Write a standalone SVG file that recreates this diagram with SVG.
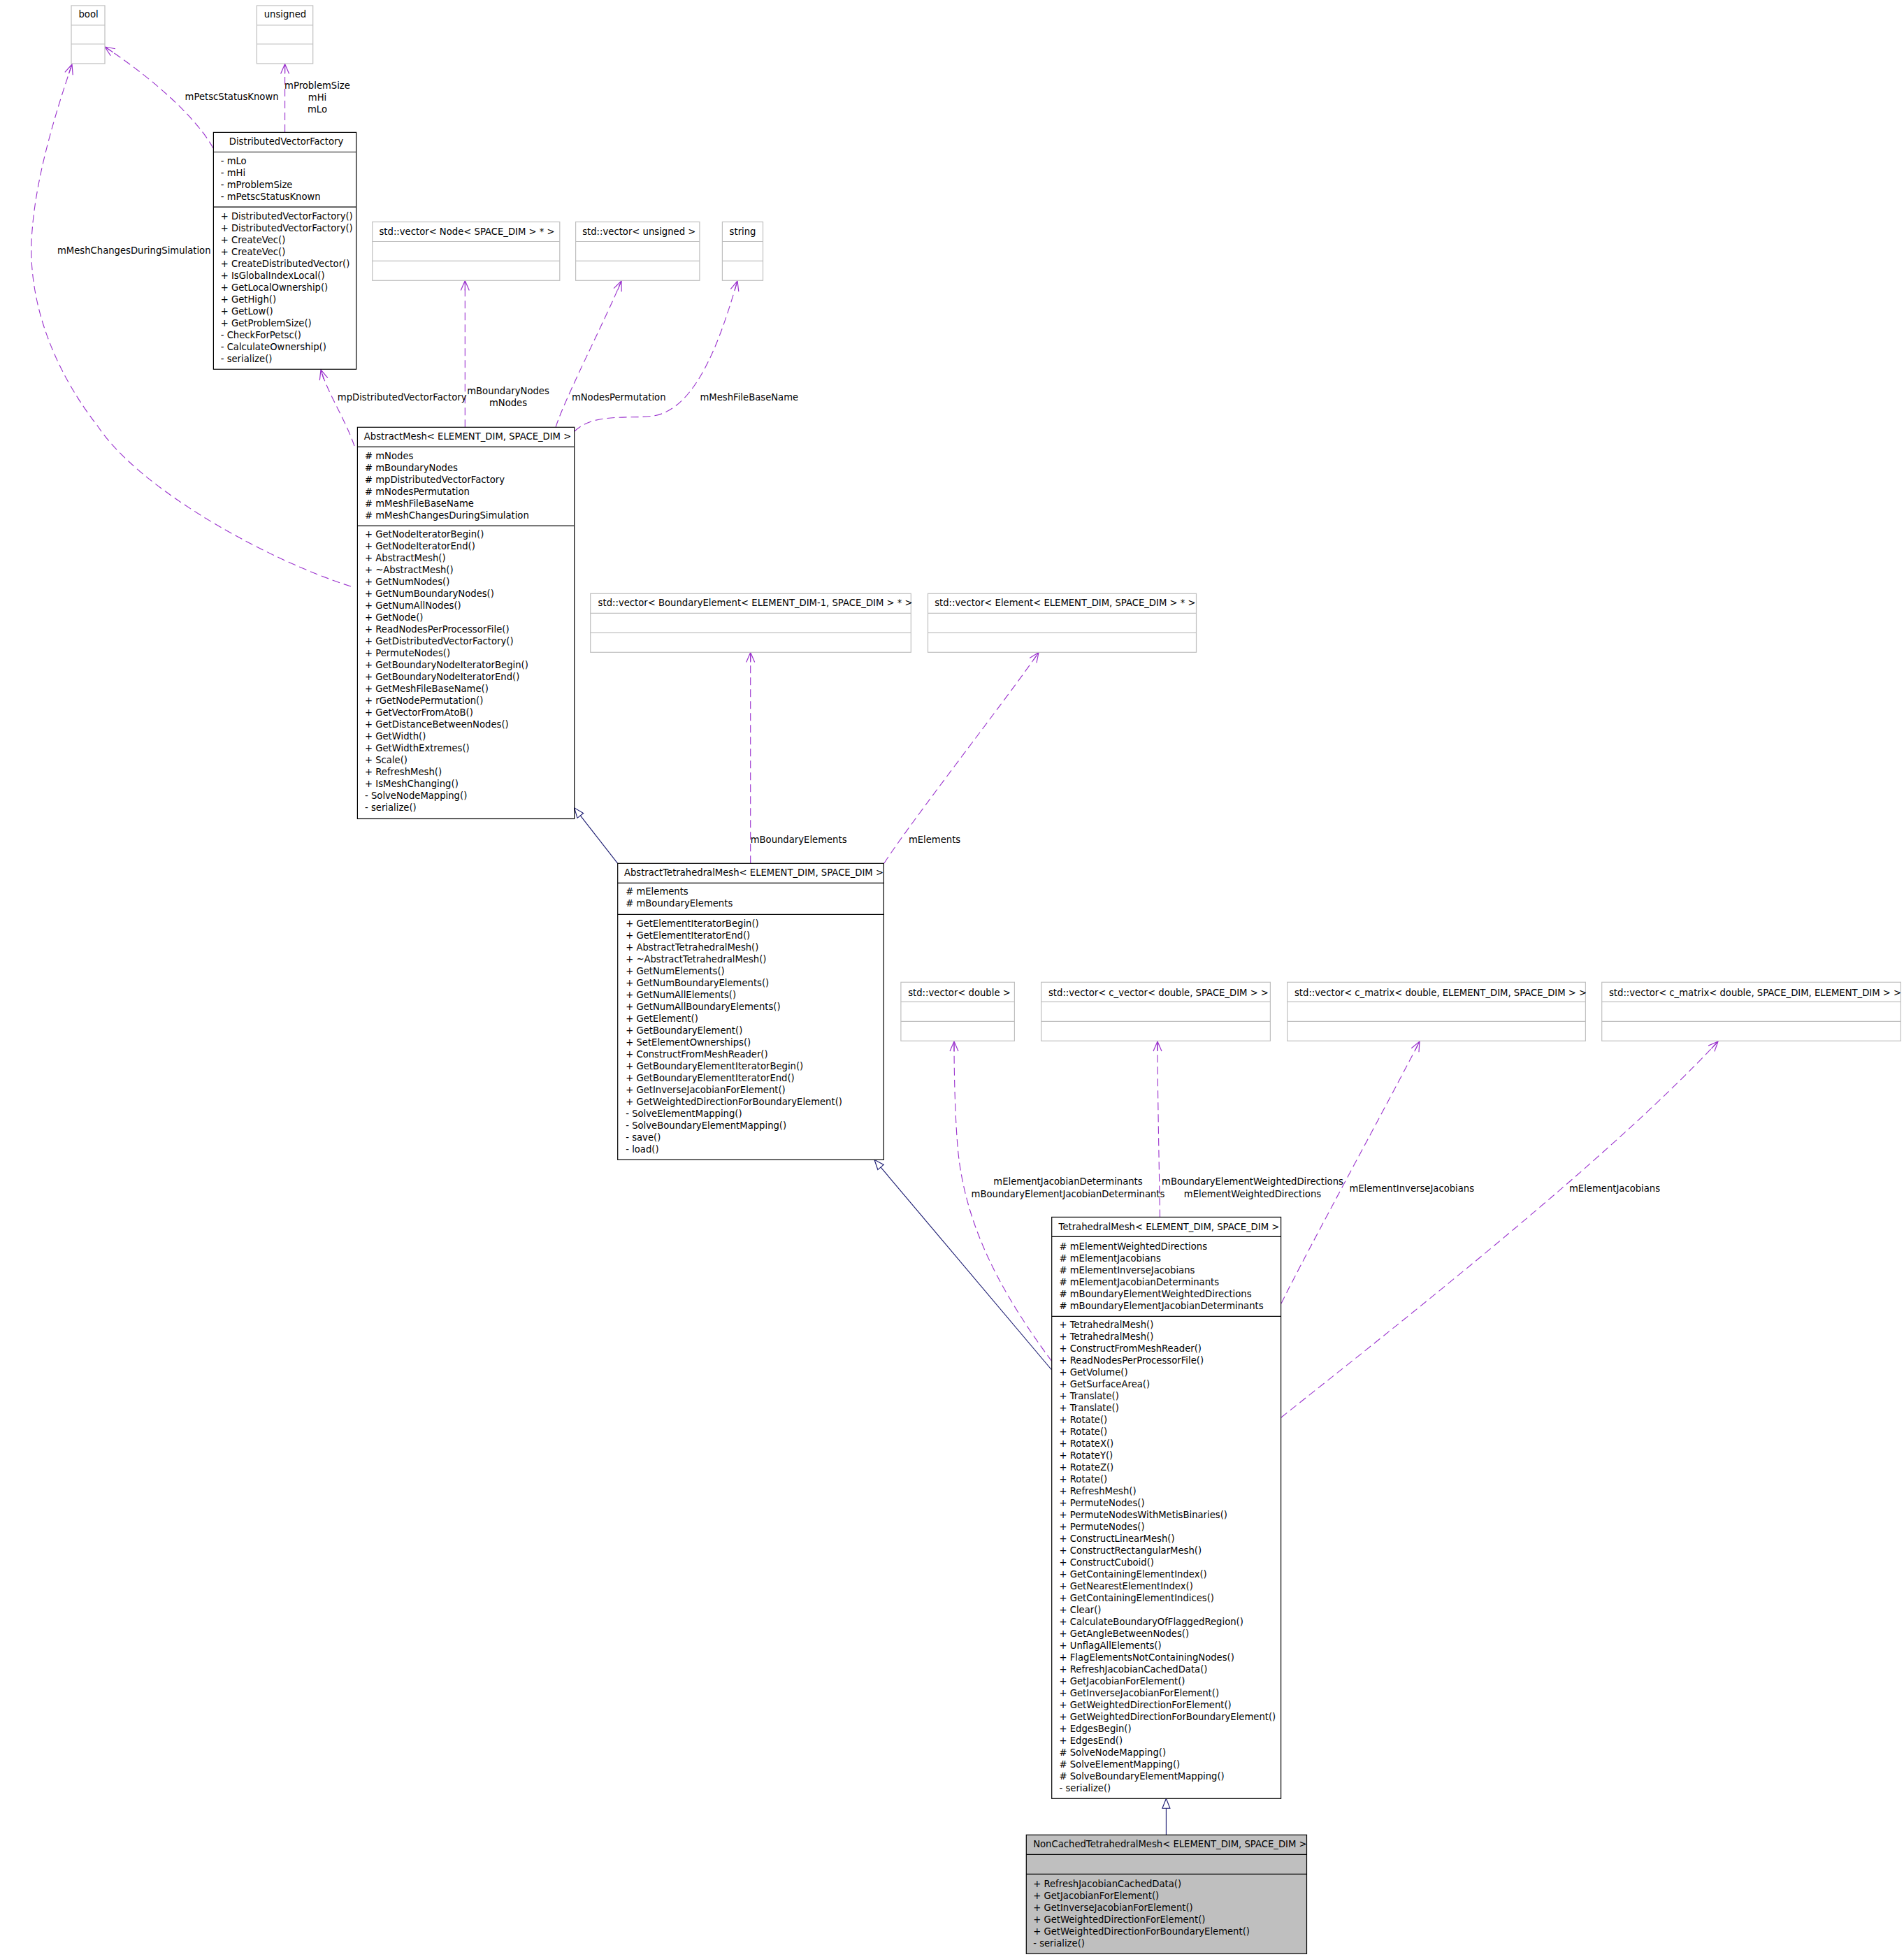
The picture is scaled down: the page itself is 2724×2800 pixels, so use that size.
<svg xmlns="http://www.w3.org/2000/svg" width="2724" height="2800" viewBox="0 0 2724 2800">
<style>
text{font-family:"DejaVu Sans","Liberation Sans",sans-serif;font-size:13.2px;fill:#000}
.box{fill:#fff;stroke:#000;stroke-width:1.2}
.sep{stroke:#000;stroke-width:1.2}
.ext{fill:#fff;stroke:#bfbfbf;stroke-width:1.2}
.esep{stroke:#bfbfbf;stroke-width:1.2}
.cur{fill:#bfbfbf;stroke:#000;stroke-width:1.2}
.use{fill:none;stroke:#9a32cd;stroke-width:1.1;stroke-dasharray:11,6;marker-end:url(#vee)}
.inh{fill:none;stroke:#191970;stroke-width:1.1;marker-end:url(#tri)}
.mid{text-anchor:middle}
</style>
<defs>
<marker id="vee" markerUnits="userSpaceOnUse" markerWidth="18" markerHeight="14" refX="15" refY="7" orient="auto" viewBox="0 0 18 14">
<path d="M1,1 L15,7 L1,13 M15,7 L1,7" fill="none" stroke="#9a32cd" stroke-width="1.2"/>
</marker>
<marker id="tri" markerUnits="userSpaceOnUse" markerWidth="18" markerHeight="14" refX="15" refY="7" orient="auto" viewBox="0 0 18 14">
<path d="M1,1.5 L15,7 L1,12.5 Z" fill="#fff" stroke="#191970" stroke-width="1.1"/>
</marker>
</defs>

<g id="connectors">
<path class="inh" d="M1668.4,2625.3 L1668.4,2573.3"/>
<path class="inh" d="M1504.6,1960 L1251,1659.3"/>
<path class="inh" d="M883.7,1235.3 L821.7,1155.9"/>
<path class="use" d="M305,212 C285,175 230,120 150,67"/>
<path class="use" d="M407.6,189 L407.6,91.5"/>
<path class="use" d="M502,839 C380,800 200,700 140,610 C70,520 38,420 46,330 C52,250 80,160 103,92"/>
<path class="use" d="M507,638 C494,600 470,565 459,529"/>
<path class="use" d="M665.3,611.3 L665.3,401.5"/>
<path class="use" d="M795,611.3 C808,570 865,460 889,402"/>
<path class="use" d="M822,617 C850,590 900,600 935,595 C1000,585 1035,470 1055,402"/>
<path class="use" d="M1073.7,1235.3 L1073.7,933.5"/>
<path class="use" d="M1265,1235 C1300,1180 1440,1000 1486,933.5"/>
<path class="use" d="M1505,1948 C1440,1860 1380,1760 1370,1640 C1366,1590 1365,1530 1365,1490"/>
<path class="use" d="M1659.5,1741.4 C1658,1650 1656,1550 1656,1490"/>
<path class="use" d="M1833,1865 C1870,1790 1990,1570 2031,1490"/>
<path class="use" d="M1833,2028 C2000,1895 2300,1660 2458,1490"/>
<text x="264.6" y="143.3">mPetscStatusKnown</text>
<text class="mid" x="454" y="127.3">mProblemSize</text>
<text class="mid" x="454" y="143.5">mHi</text>
<text class="mid" x="454" y="160.5">mLo</text>
<text x="82" y="362.5">mMeshChangesDuringSimulation</text>
<text x="482.8" y="573.3">mpDistributedVectorFactory</text>
<text class="mid" x="727" y="564.2">mBoundaryNodes</text>
<text class="mid" x="727" y="581.2">mNodes</text>
<text x="817.9" y="573.3">mNodesPermutation</text>
<text x="1001.5" y="573.3">mMeshFileBaseName</text>
<text x="1073.7" y="1206.4">mBoundaryElements</text>
<text x="1299.9" y="1206.4">mElements</text>
<text class="mid" x="1528" y="1695.4">mElementJacobianDeterminants</text>
<text class="mid" x="1528" y="1712.7">mBoundaryElementJacobianDeterminants</text>
<text class="mid" x="1792" y="1695.4">mBoundaryElementWeightedDirections</text>
<text class="mid" x="1792" y="1712.7">mElementWeightedDirections</text>
<text x="1930.4" y="1704.7">mElementInverseJacobians</text>
<text x="2245" y="1704.7">mElementJacobians</text>
</g>

<g id="bool">
<rect class="ext" x="102" y="8" width="48" height="83"/>
<line class="esep" x1="102" y1="36" x2="150" y2="36"/>
<line class="esep" x1="102" y1="63" x2="150" y2="63"/>
<text x="112.5" y="25.3">bool</text>
</g>

<g id="unsigned">
<rect class="ext" x="367.4" y="8" width="80.3" height="83"/>
<line class="esep" x1="367.4" y1="36" x2="447.7" y2="36"/>
<line class="esep" x1="367.4" y1="63" x2="447.7" y2="63"/>
<text x="377.7" y="25.3">unsigned</text>
</g>

<g id="DistributedVectorFactory">
<rect class="box" x="305.4" y="189.4" width="204.3" height="338.9"/>
<line class="sep" x1="305.4" y1="217.5" x2="509.7" y2="217.5"/>
<line class="sep" x1="305.4" y1="296.2" x2="509.7" y2="296.2"/>
<text x="327.8" y="207.2">DistributedVectorFactory</text>
<text x="315.7" y="235.2"><tspan x="315.7">- mLo</tspan><tspan x="315.7" dy="17">- mHi</tspan><tspan x="315.7" dy="17">- mProblemSize</tspan><tspan x="315.7" dy="17">- mPetscStatusKnown</tspan></text>
<text x="315.7" y="313.9"><tspan x="315.7">+ DistributedVectorFactory()</tspan><tspan x="315.7" dy="16.97">+ DistributedVectorFactory()</tspan><tspan x="315.7" dy="16.97">+ CreateVec()</tspan><tspan x="315.7" dy="16.97">+ CreateVec()</tspan><tspan x="315.7" dy="16.97">+ CreateDistributedVector()</tspan><tspan x="315.7" dy="16.97">+ IsGlobalIndexLocal()</tspan><tspan x="315.7" dy="16.97">+ GetLocalOwnership()</tspan><tspan x="315.7" dy="16.97">+ GetHigh()</tspan><tspan x="315.7" dy="16.97">+ GetLow()</tspan><tspan x="315.7" dy="16.97">+ GetProblemSize()</tspan><tspan x="315.7" dy="16.97">- CheckForPetsc()</tspan><tspan x="315.7" dy="16.97">- CalculateOwnership()</tspan><tspan x="315.7" dy="16.97">- serialize()</tspan></text>
</g>

<g id="vectorNode">
<rect class="ext" x="532.7" y="317.5" width="268.1" height="83.8"/>
<line class="esep" x1="532.7" y1="345.5" x2="800.8" y2="345.5"/>
<line class="esep" x1="532.7" y1="373.4" x2="800.8" y2="373.4"/>
<text x="542.5" y="336.1">std::vector&lt; Node&lt; SPACE_DIM &gt; * &gt;</text>
</g>

<g id="vectorUnsigned">
<rect class="ext" x="823.6" y="317.5" width="177.3" height="83.8"/>
<line class="esep" x1="823.6" y1="345.5" x2="1000.9" y2="345.5"/>
<line class="esep" x1="823.6" y1="373.4" x2="1000.9" y2="373.4"/>
<text x="833.2" y="336.1">std::vector&lt; unsigned &gt;</text>
</g>

<g id="string">
<rect class="ext" x="1033.4" y="317.5" width="58.1" height="83.8"/>
<line class="esep" x1="1033.4" y1="345.5" x2="1091.5" y2="345.5"/>
<line class="esep" x1="1033.4" y1="373.4" x2="1091.5" y2="373.4"/>
<text x="1043.6" y="336.1">string</text>
</g>

<g id="AbstractMesh">
<rect class="box" x="511.4" y="611.3" width="310.3" height="560.2"/>
<line class="sep" x1="511.4" y1="639.4" x2="821.7" y2="639.4"/>
<line class="sep" x1="511.4" y1="752.3" x2="821.7" y2="752.3"/>
<text x="520.8" y="629.3">AbstractMesh&lt; ELEMENT_DIM, SPACE_DIM &gt;</text>
<text x="522" y="657"><tspan x="522"># mNodes</tspan><tspan x="522" dy="17"># mBoundaryNodes</tspan><tspan x="522" dy="17"># mpDistributedVectorFactory</tspan><tspan x="522" dy="17"># mNodesPermutation</tspan><tspan x="522" dy="17"># mMeshFileBaseName</tspan><tspan x="522" dy="17"># mMeshChangesDuringSimulation</tspan></text>
<text x="522" y="769.1"><tspan x="522">+ GetNodeIteratorBegin()</tspan><tspan x="522" dy="17">+ GetNodeIteratorEnd()</tspan><tspan x="522" dy="17">+ AbstractMesh()</tspan><tspan x="522" dy="17">+ ~AbstractMesh()</tspan><tspan x="522" dy="17">+ GetNumNodes()</tspan><tspan x="522" dy="17">+ GetNumBoundaryNodes()</tspan><tspan x="522" dy="17">+ GetNumAllNodes()</tspan><tspan x="522" dy="17">+ GetNode()</tspan><tspan x="522" dy="17">+ ReadNodesPerProcessorFile()</tspan><tspan x="522" dy="17">+ GetDistributedVectorFactory()</tspan><tspan x="522" dy="17">+ PermuteNodes()</tspan><tspan x="522" dy="17">+ GetBoundaryNodeIteratorBegin()</tspan><tspan x="522" dy="17">+ GetBoundaryNodeIteratorEnd()</tspan><tspan x="522" dy="17">+ GetMeshFileBaseName()</tspan><tspan x="522" dy="17">+ rGetNodePermutation()</tspan><tspan x="522" dy="17">+ GetVectorFromAtoB()</tspan><tspan x="522" dy="17">+ GetDistanceBetweenNodes()</tspan><tspan x="522" dy="17">+ GetWidth()</tspan><tspan x="522" dy="17">+ GetWidthExtremes()</tspan><tspan x="522" dy="17">+ Scale()</tspan><tspan x="522" dy="17">+ RefreshMesh()</tspan><tspan x="522" dy="17">+ IsMeshChanging()</tspan><tspan x="522" dy="17">- SolveNodeMapping()</tspan><tspan x="522" dy="17">- serialize()</tspan></text>
</g>

<g id="vectorBoundaryElement">
<rect class="ext" x="844.7" y="849.3" width="458.6" height="84"/>
<line class="esep" x1="844.7" y1="877.3" x2="1303.3" y2="877.3"/>
<line class="esep" x1="844.7" y1="905.3" x2="1303.3" y2="905.3"/>
<text x="855.6" y="867.4">std::vector&lt; BoundaryElement&lt; ELEMENT_DIM-1, SPACE_DIM &gt; * &gt;</text>
</g>

<g id="vectorElement">
<rect class="ext" x="1327.5" y="849.3" width="384" height="84"/>
<line class="esep" x1="1327.5" y1="877.3" x2="1711.5" y2="877.3"/>
<line class="esep" x1="1327.5" y1="905.3" x2="1711.5" y2="905.3"/>
<text x="1337.2" y="867.4">std::vector&lt; Element&lt; ELEMENT_DIM, SPACE_DIM &gt; * &gt;</text>
</g>

<g id="AbstractTetrahedralMesh">
<rect class="box" x="883.7" y="1235.3" width="380.6" height="424"/>
<line class="sep" x1="883.7" y1="1263.3" x2="1264.3" y2="1263.3"/>
<line class="sep" x1="883.7" y1="1308.3" x2="1264.3" y2="1308.3"/>
<text x="892.9" y="1253.4">AbstractTetrahedralMesh&lt; ELEMENT_DIM, SPACE_DIM &gt;</text>
<text x="895.2" y="1280.4"><tspan x="895.2"># mElements</tspan><tspan x="895.2" dy="17"># mBoundaryElements</tspan></text>
<text x="895.2" y="1326.4"><tspan x="895.2">+ GetElementIteratorBegin()</tspan><tspan x="895.2" dy="16.98">+ GetElementIteratorEnd()</tspan><tspan x="895.2" dy="16.98">+ AbstractTetrahedralMesh()</tspan><tspan x="895.2" dy="16.98">+ ~AbstractTetrahedralMesh()</tspan><tspan x="895.2" dy="16.98">+ GetNumElements()</tspan><tspan x="895.2" dy="16.98">+ GetNumBoundaryElements()</tspan><tspan x="895.2" dy="16.98">+ GetNumAllElements()</tspan><tspan x="895.2" dy="16.98">+ GetNumAllBoundaryElements()</tspan><tspan x="895.2" dy="16.98">+ GetElement()</tspan><tspan x="895.2" dy="16.98">+ GetBoundaryElement()</tspan><tspan x="895.2" dy="16.98">+ SetElementOwnerships()</tspan><tspan x="895.2" dy="16.98">+ ConstructFromMeshReader()</tspan><tspan x="895.2" dy="16.98">+ GetBoundaryElementIteratorBegin()</tspan><tspan x="895.2" dy="16.98">+ GetBoundaryElementIteratorEnd()</tspan><tspan x="895.2" dy="16.98">+ GetInverseJacobianForElement()</tspan><tspan x="895.2" dy="16.98">+ GetWeightedDirectionForBoundaryElement()</tspan><tspan x="895.2" dy="16.98">- SolveElementMapping()</tspan><tspan x="895.2" dy="16.98">- SolveBoundaryElementMapping()</tspan><tspan x="895.2" dy="16.98">- save()</tspan><tspan x="895.2" dy="16.98">- load()</tspan></text>
</g>

<g id="vectorDouble">
<rect class="ext" x="1288.9" y="1405.3" width="162.5" height="84"/>
<line class="esep" x1="1288.9" y1="1433.3" x2="1451.4" y2="1433.3"/>
<line class="esep" x1="1288.9" y1="1461.3" x2="1451.4" y2="1461.3"/>
<text x="1299.2" y="1424.7">std::vector&lt; double &gt;</text>
</g>

<g id="vectorCVector">
<rect class="ext" x="1489.7" y="1405.3" width="327.7" height="84"/>
<line class="esep" x1="1489.7" y1="1433.3" x2="1817.4" y2="1433.3"/>
<line class="esep" x1="1489.7" y1="1461.3" x2="1817.4" y2="1461.3"/>
<text x="1500" y="1424.7">std::vector&lt; c_vector&lt; double, SPACE_DIM &gt; &gt;</text>
</g>

<g id="vectorCMatrixES">
<rect class="ext" x="1841.7" y="1405.3" width="426.7" height="84"/>
<line class="esep" x1="1841.7" y1="1433.3" x2="2268.4" y2="1433.3"/>
<line class="esep" x1="1841.7" y1="1461.3" x2="2268.4" y2="1461.3"/>
<text x="1852" y="1424.7">std::vector&lt; c_matrix&lt; double, ELEMENT_DIM, SPACE_DIM &gt; &gt;</text>
</g>

<g id="vectorCMatrixSE">
<rect class="ext" x="2291.7" y="1405.3" width="427.7" height="84"/>
<line class="esep" x1="2291.7" y1="1433.3" x2="2719.4" y2="1433.3"/>
<line class="esep" x1="2291.7" y1="1461.3" x2="2719.4" y2="1461.3"/>
<text x="2302" y="1424.7">std::vector&lt; c_matrix&lt; double, SPACE_DIM, ELEMENT_DIM &gt; &gt;</text>
</g>

<g id="TetrahedralMesh">
<rect class="box" x="1504.7" y="1741.4" width="327.9" height="831.9"/>
<line class="sep" x1="1504.7" y1="1769.4" x2="1832.6" y2="1769.4"/>
<line class="sep" x1="1504.7" y1="1883.4" x2="1832.6" y2="1883.4"/>
<text x="1514.6" y="1760.3">TetrahedralMesh&lt; ELEMENT_DIM, SPACE_DIM &gt;</text>
<text x="1515.5" y="1788.2"><tspan x="1515.5"># mElementWeightedDirections</tspan><tspan x="1515.5" dy="17"># mElementJacobians</tspan><tspan x="1515.5" dy="17"># mElementInverseJacobians</tspan><tspan x="1515.5" dy="17"># mElementJacobianDeterminants</tspan><tspan x="1515.5" dy="17"># mBoundaryElementWeightedDirections</tspan><tspan x="1515.5" dy="17"># mBoundaryElementJacobianDeterminants</tspan></text>
<text x="1515.5" y="1900"><tspan x="1515.5">+ TetrahedralMesh()</tspan><tspan x="1515.5" dy="17">+ TetrahedralMesh()</tspan><tspan x="1515.5" dy="17">+ ConstructFromMeshReader()</tspan><tspan x="1515.5" dy="17">+ ReadNodesPerProcessorFile()</tspan><tspan x="1515.5" dy="17">+ GetVolume()</tspan><tspan x="1515.5" dy="17">+ GetSurfaceArea()</tspan><tspan x="1515.5" dy="17">+ Translate()</tspan><tspan x="1515.5" dy="17">+ Translate()</tspan><tspan x="1515.5" dy="17">+ Rotate()</tspan><tspan x="1515.5" dy="17">+ Rotate()</tspan><tspan x="1515.5" dy="17">+ RotateX()</tspan><tspan x="1515.5" dy="17">+ RotateY()</tspan><tspan x="1515.5" dy="17">+ RotateZ()</tspan><tspan x="1515.5" dy="17">+ Rotate()</tspan><tspan x="1515.5" dy="17">+ RefreshMesh()</tspan><tspan x="1515.5" dy="17">+ PermuteNodes()</tspan><tspan x="1515.5" dy="17">+ PermuteNodesWithMetisBinaries()</tspan><tspan x="1515.5" dy="17">+ PermuteNodes()</tspan><tspan x="1515.5" dy="17">+ ConstructLinearMesh()</tspan><tspan x="1515.5" dy="17">+ ConstructRectangularMesh()</tspan><tspan x="1515.5" dy="17">+ ConstructCuboid()</tspan><tspan x="1515.5" dy="17">+ GetContainingElementIndex()</tspan><tspan x="1515.5" dy="17">+ GetNearestElementIndex()</tspan><tspan x="1515.5" dy="17">+ GetContainingElementIndices()</tspan><tspan x="1515.5" dy="17">+ Clear()</tspan><tspan x="1515.5" dy="17">+ CalculateBoundaryOfFlaggedRegion()</tspan><tspan x="1515.5" dy="17">+ GetAngleBetweenNodes()</tspan><tspan x="1515.5" dy="17">+ UnflagAllElements()</tspan><tspan x="1515.5" dy="17">+ FlagElementsNotContainingNodes()</tspan><tspan x="1515.5" dy="17">+ RefreshJacobianCachedData()</tspan><tspan x="1515.5" dy="17">+ GetJacobianForElement()</tspan><tspan x="1515.5" dy="17">+ GetInverseJacobianForElement()</tspan><tspan x="1515.5" dy="17">+ GetWeightedDirectionForElement()</tspan><tspan x="1515.5" dy="17">+ GetWeightedDirectionForBoundaryElement()</tspan><tspan x="1515.5" dy="17">+ EdgesBegin()</tspan><tspan x="1515.5" dy="17">+ EdgesEnd()</tspan><tspan x="1515.5" dy="17"># SolveNodeMapping()</tspan><tspan x="1515.5" dy="17"># SolveElementMapping()</tspan><tspan x="1515.5" dy="17"># SolveBoundaryElementMapping()</tspan><tspan x="1515.5" dy="17">- serialize()</tspan></text>
</g>

<g id="NonCachedTetrahedralMesh">
<rect class="cur" x="1468.3" y="2625.3" width="401.2" height="170"/>
<line class="sep" x1="1468.3" y1="2653.3" x2="1869.5" y2="2653.3"/>
<line class="sep" x1="1468.3" y1="2681.3" x2="1869.5" y2="2681.3"/>
<text x="1478.2" y="2643.4">NonCachedTetrahedralMesh&lt; ELEMENT_DIM, SPACE_DIM &gt;</text>
<text x="1478.2" y="2700"><tspan x="1478.2">+ RefreshJacobianCachedData()</tspan><tspan x="1478.2" dy="17">+ GetJacobianForElement()</tspan><tspan x="1478.2" dy="17">+ GetInverseJacobianForElement()</tspan><tspan x="1478.2" dy="17">+ GetWeightedDirectionForElement()</tspan><tspan x="1478.2" dy="17">+ GetWeightedDirectionForBoundaryElement()</tspan><tspan x="1478.2" dy="17">- serialize()</tspan></text>
</g>
</svg>
